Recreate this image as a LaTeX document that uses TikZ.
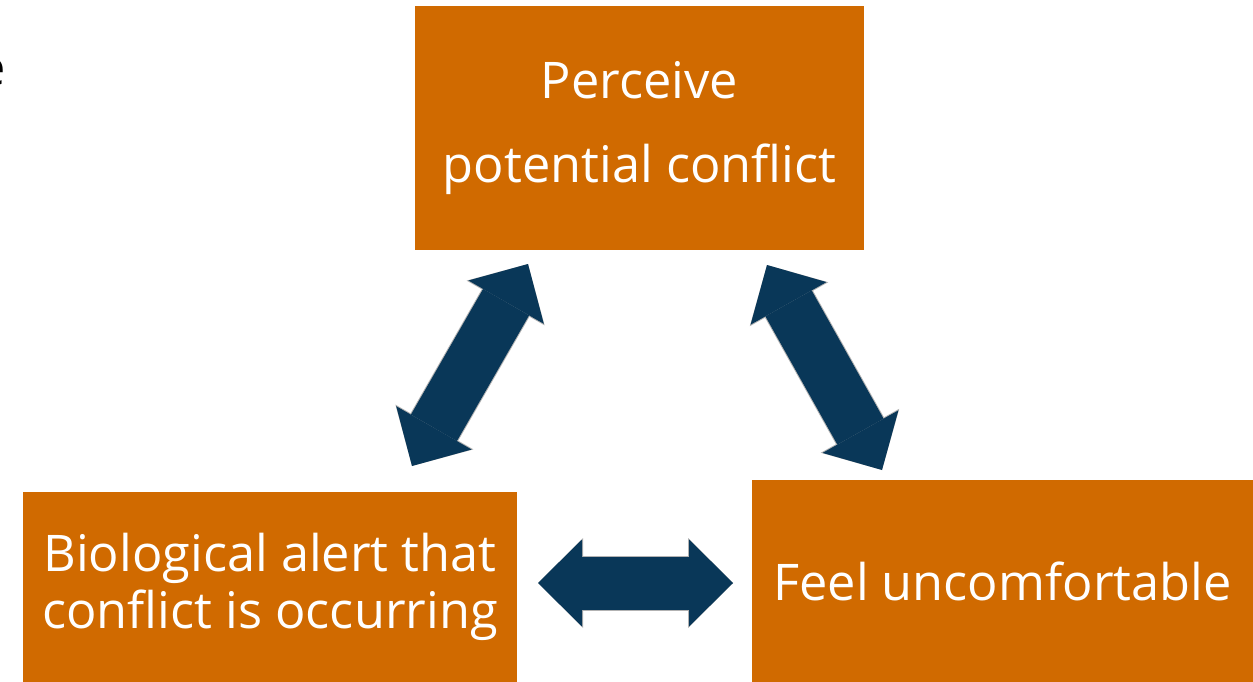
\documentclass[tikz,border=0pt]{standalone}
\usepackage{fontspec}
\setmainfont{Open Sans}
\usetikzlibrary{arrows.meta}
\definecolor{rust}{RGB}{208,106,0}
\definecolor{navy}{RGB}{9,55,88}
\tikzstyle{stage}=[fill=rust, text=white, align=center, inner sep=0pt,
  font=\fontsize{50.5}{57}\selectfont]
\tikzstyle{link}=[draw=navy, line width=53pt,
  {Triangle[width=87pt,length=44pt,line width=0pt]}-{Triangle[width=87pt,length=44pt,line width=0pt]},
  preaction={draw=gray!60, line width=55pt,
    {Triangle[width=90pt,length=45pt,line width=0pt]}-{Triangle[width=90pt,length=45pt,line width=0pt]}}]

\begin{document}
\begin{tikzpicture}[x=1pt, y=-1pt]
  \useasboundingbox (0,0) rectangle (1253,682);
  \node[anchor=base east, font=\fontsize{50.5}{57}\selectfont] (cut) at (9,86) {e};
  \node[stage, minimum width=449pt, minimum height=244pt] (perceive)
    at (639.5,128) {Perceive\\[27pt]potential conflict};
  \node[stage, minimum width=494pt, minimum height=190pt] (alert)
    at (270,587) {Biological alert that\\conflict is occurring};
  \node[stage, minimum width=501pt, minimum height=202pt] (uneasy)
    at (1002.5,581) {Feel uncomfortable};
  % ends of the block arrows
  \coordinate (a1) at (412,466);
  \coordinate (a2) at (528,264);
  \coordinate (b1) at (767,265);
  \coordinate (b2) at (882,470);
  \coordinate (c1) at (538,583);
  \coordinate (c2) at (733,583);
  \draw[link] (a1) -- (a2);
  \draw[link] (b1) -- (b2);
  \draw[link] (c1) -- (c2);
\end{tikzpicture}
\end{document}
